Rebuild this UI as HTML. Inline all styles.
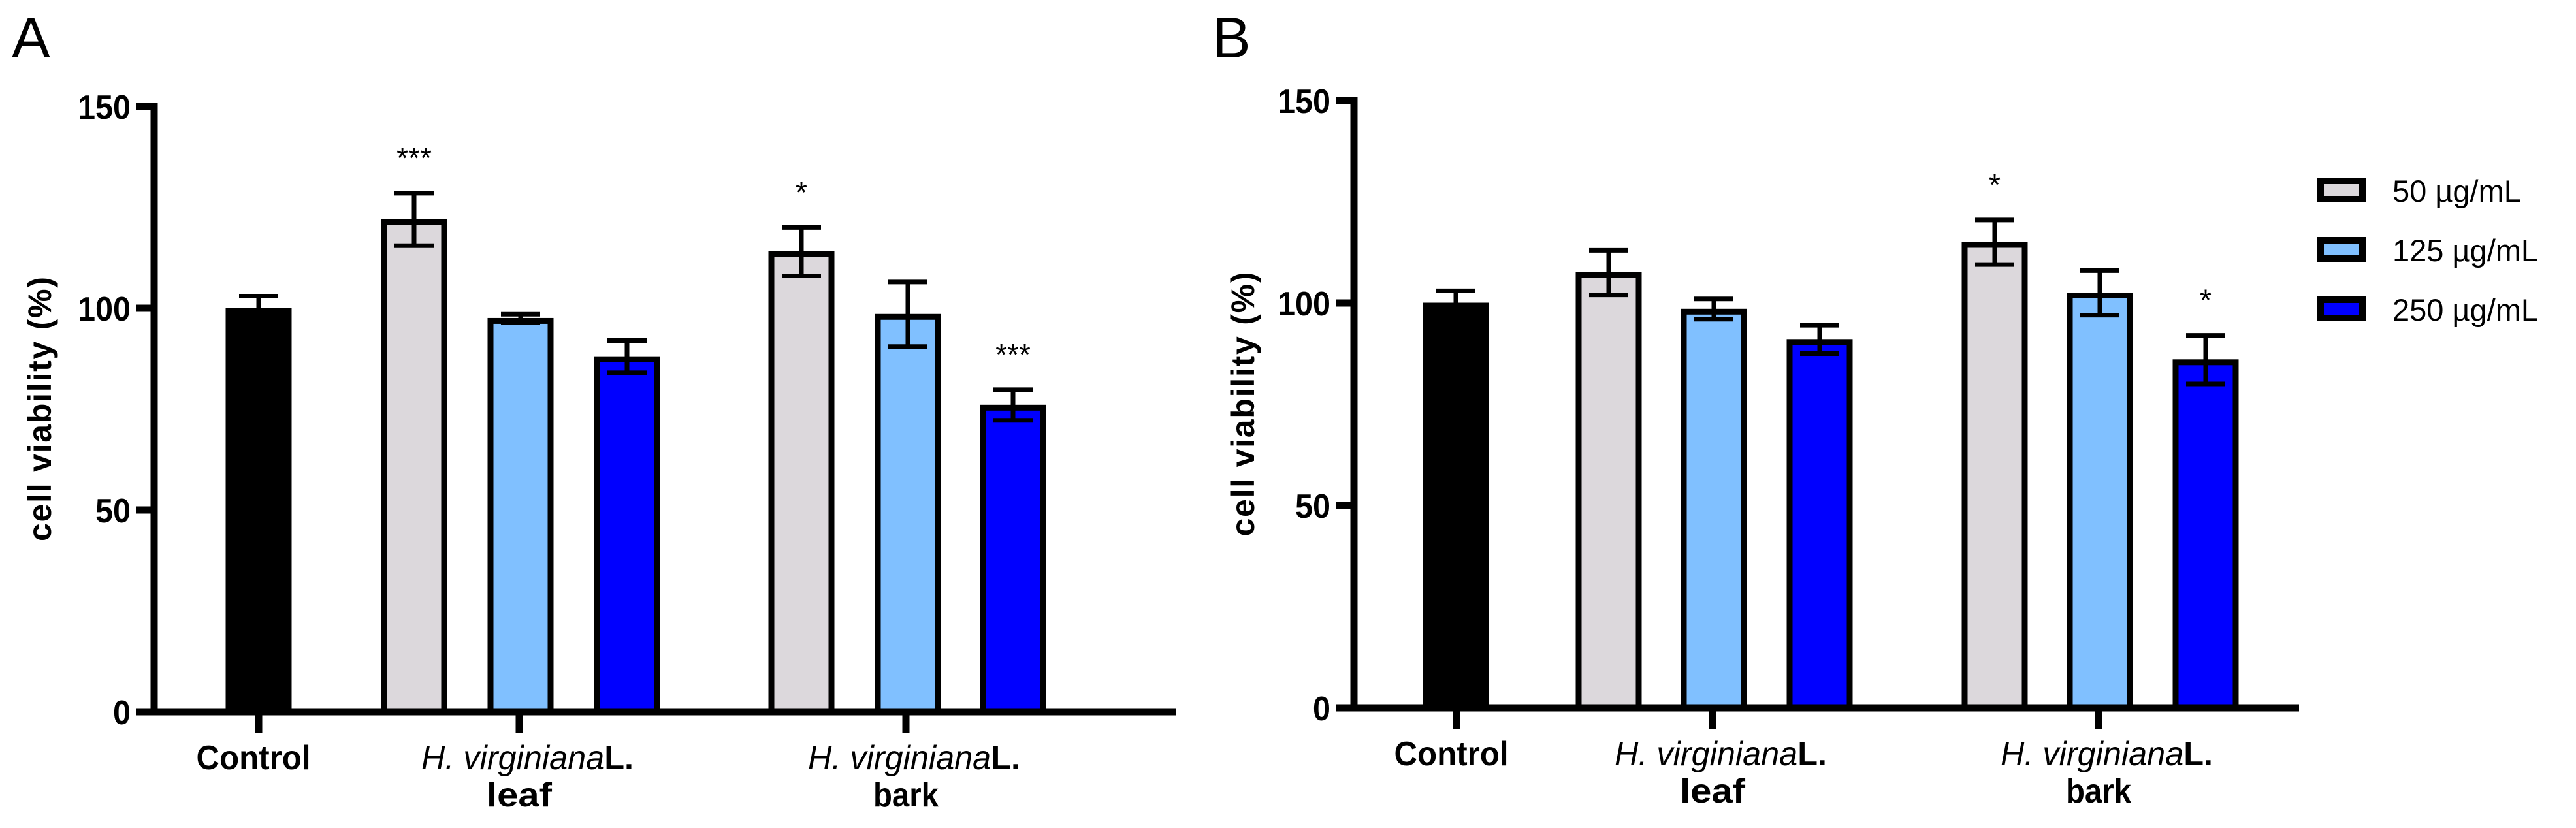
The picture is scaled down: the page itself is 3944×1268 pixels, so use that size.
<!DOCTYPE html>
<html><head><meta charset="utf-8"><style>
html,body{margin:0;padding:0;background:#fff;}
svg{display:block;font-family:"Liberation Sans",Arial,sans-serif;}
</style></head><body>
<svg id="chart" width="3944" height="1268" viewBox="0 0 3944 1268" xmlns="http://www.w3.org/2000/svg">
<text x="18" y="88" font-size="88">A</text>
<text x="1856" y="88" font-size="88">B</text>
<g id="legend"></g>
</svg>
<script>
const groups = ["Control", "leaf", "bark"];
const series = ["Control", "50 µg/mL", "125 µg/mL", "250 µg/mL"];
const yTicks = [0, 50, 100, 150];
const aValues = [100, 122, 97.5, 88, 114, 98.5, 76];
const aErrors = [3, 6.5, 1, 4, 6, 8, 3.8];
const aStars = ["", "***", "", "", "*", "", "***"];
const bValues = [100, 107.5, 98.5, 91, 115, 102.5, 86];
const bErrors = [3, 5.5, 2.5, 3.5, 5.5, 5.5, 6];
const bStars = ["", "", "", "", "*", "", "*"];
const barSeries = [0, 1, 2, 3, 1, 2, 3];
const colors = ["#000000", "#dcd8dc", "#80c0ff", "#0000ff"];

const NS = "http://www.w3.org/2000/svg";
const svg = document.getElementById('chart');
function mk(tag, attrs, parent) {
  const e = document.createElementNS(NS, tag);
  for (const k in attrs) e.setAttribute(k, attrs[k]);
  (parent || svg).appendChild(e);
  return e;
}

function panel(cfg) {
  const g = mk('g', {});
  
  
  const y = v => cfg.y0 - v * (cfg.y0 - cfg.y150) / 150;
  cfg.values.forEach((v, i) => {
    const cx = cfg.centers[i];
    const s = barSeries[i];
    const top = y(v);
    const bw = 100;
    const r = mk('rect', {x: cx - bw/2 + 4, y: top + 4, width: bw - 8, height: cfg.y0 - top - 4,
      fill: colors[s], stroke: '#000', 'stroke-width': 9}, g);
    
    
    const e = cfg.errors[i];
    const eg = mk('g', {stroke: '#000', 'stroke-width': 7, fill: 'none'}, g);
    
    
    mk('line', {x1: cx, x2: cx, y1: y(v + e), y2: s === 0 ? top : y(v - e)}, eg);
    mk('line', {x1: cx - 30, x2: cx + 30, y1: y(v + e), y2: y(v + e)}, eg);
    if (s !== 0) mk('line', {x1: cx - 30, x2: cx + 30, y1: y(v - e), y2: y(v - e)}, eg);
    if (cfg.stars[i]) {
      const t = mk('text', {x: cx, y: y(v + e) - 38, 'font-size': 46, 'text-anchor': 'middle'}, g);
      t.textContent = cfg.stars[i];
      
      
    }
  });
  const ax = mk('g', {stroke: '#000', 'stroke-width': 11, fill: 'none'}, g);
  
  
  mk('line', {x1: cfg.ax, x2: cfg.ax, y1: cfg.y150 - 5, y2: cfg.y0 + 5}, ax);
  mk('line', {x1: cfg.ax - 5, x2: cfg.xEnd, y1: cfg.y0, y2: cfg.y0}, ax);
  yTicks.forEach(v => {
    mk('line', {x1: cfg.ax - 28, x2: cfg.ax, y1: y(v), y2: y(v)}, ax);
    const t = mk('text', {x: cfg.ax - 36, y: y(v) + 19, 'font-size': 52, 'font-weight': 'bold', 'text-anchor': 'end', stroke: 'none', fill: '#000',
      textLength: String(v).length * 27, lengthAdjust: 'spacingAndGlyphs'}, g);
    t.textContent = v;
    
    
  });
  cfg.ticks.forEach((tx, k) => {
    mk('line', {x1: tx, x2: tx, y1: cfg.y0, y2: cfg.y0 + 33}, ax);
    if (k === 0) {
      const t = mk('text', {x: tx - 8, y: cfg.y0 + 88, 'font-size': 52, 'font-weight': 'bold', 'text-anchor': 'middle', textLength: 175, lengthAdjust: 'spacingAndGlyphs'}, g);
      t.textContent = 'Control';
      
      
    } else {
      const t = mk('text', {x: tx - 150, y: cfg.y0 + 88, 'font-size': 52, textLength: 325, lengthAdjust: 'spacingAndGlyphs'}, g);
      t.innerHTML = '<tspan font-style="italic">H. virginiana</tspan><tspan font-weight="bold">L.</tspan>';
      
      
      const t2 = mk('text', {x: tx, y: cfg.y0 + 145, 'font-size': 52, 'font-weight': 'bold', 'text-anchor': 'middle', textLength: groups[k].length * 25, lengthAdjust: 'spacingAndGlyphs'}, g);
      t2.textContent = groups[k];
      
      
    }
  });
  const yt = mk('text', {x: 0, y: 0, 'font-size': 50, 'font-weight': 'bold', 'text-anchor': 'middle', textLength: 405, lengthAdjust: 'spacing',
    transform: 'translate(' + cfg.titleX + ',' + ((cfg.y0 + cfg.y150) / 2 + 0) + ') rotate(-90)'}, g);
  yt.textContent = 'cell viability (%)';
  
  
}

panel({name: 'panel-a', values: aValues, errors: aErrors, stars: aStars, ax: 236, xEnd: 1800, y0: 1090, y150: 163,
  centers: [396, 634, 797, 960, 1227, 1390, 1551], ticks: [396, 795, 1387], titleX: 78});
panel({name: 'panel-b', values: bValues, errors: bErrors, stars: bStars, ax: 2073, xEnd: 3520, y0: 1084, y150: 154,
  centers: [2229, 2463, 2624, 2786, 3054, 3215, 3377], ticks: [2230, 2622, 3213], titleX: 1920});

const lg = document.getElementById('legend');
[1, 2, 3].forEach((s, k) => {
  const yy = 272 + k * 91;
  const r = mk('rect', {x: 3553, y: yy + 5, width: 64, height: 28, fill: colors[s], stroke: '#000', 'stroke-width': 10}, lg);
  
  
  const t = mk('text', {x: 3663, y: yy + 37, 'font-size': 47}, lg);
  t.textContent = series[s];
  
  
});
</script>
</body></html>
